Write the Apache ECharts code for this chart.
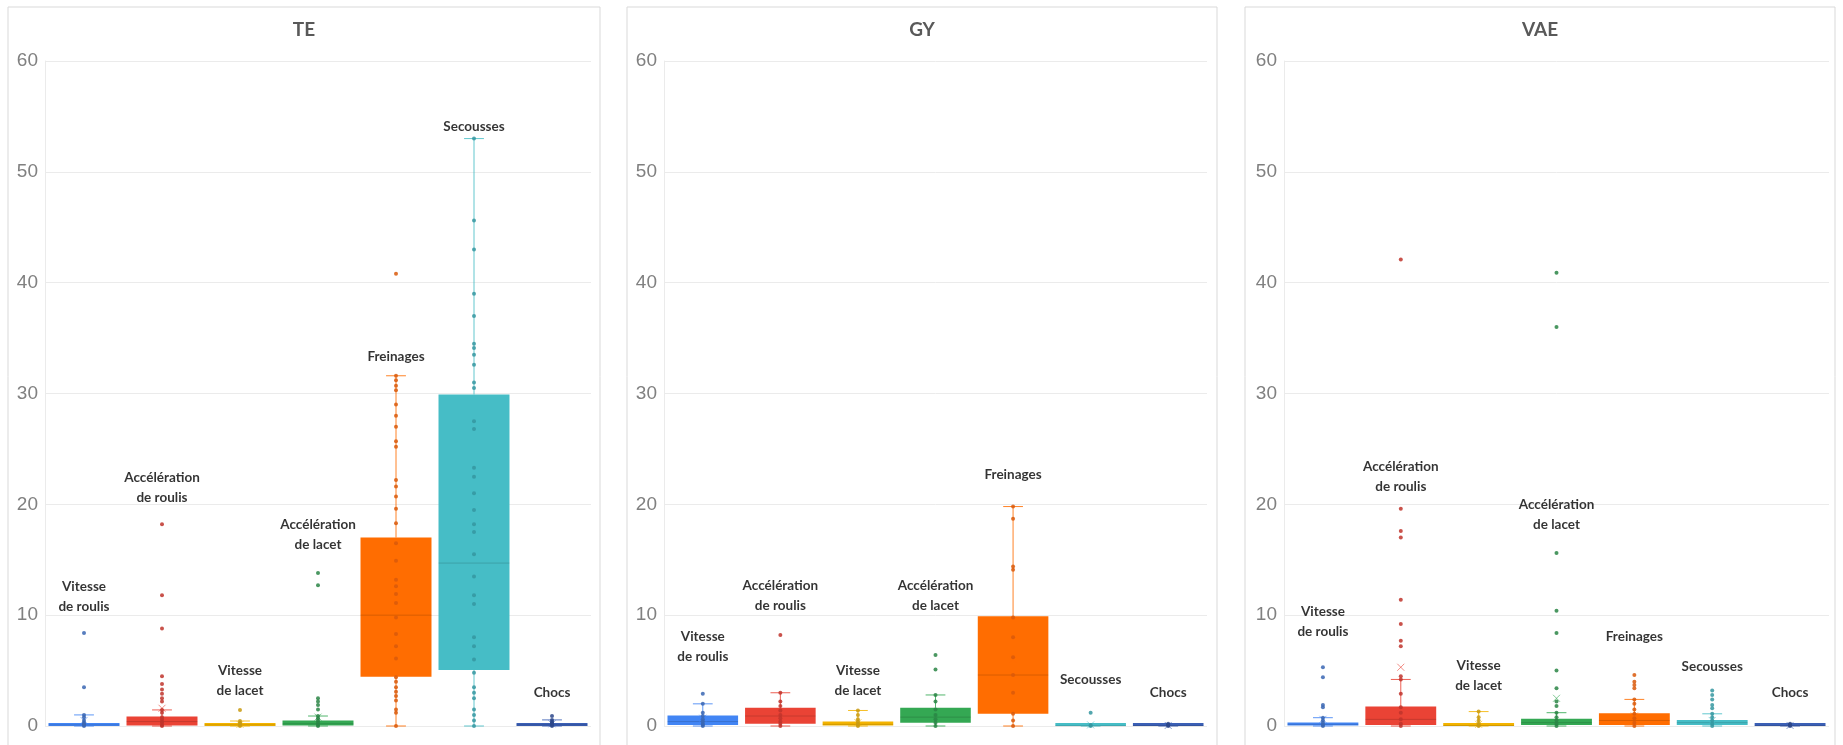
<!DOCTYPE html>
<html lang="fr">
<head>
<meta charset="UTF-8">
<title>TE / GY / VAE</title>
<script src="https://cdn.jsdelivr.net/npm/echarts@6/dist/echarts.min.js"></script>
<style>
  html, body { margin: 0; background: #fff; }
  #chart { width: 1843px; height: 745px; }
</style>
</head>
<body>
<div id="chart"></div>
<script>
// categories and their two-line labels
var categories = ['Vitesse de roulis', 'Accélération de roulis', 'Vitesse de lacet',
  'Accélération de lacet', 'Freinages', 'Secousses', 'Chocs'];
var labelText = ['Vitesse\nde roulis', 'Accélération\nde roulis', 'Vitesse\nde lacet',
  'Accélération\nde lacet', 'Freinages', 'Secousses', 'Chocs'];
var yTicks = [0, 10, 20, 30, 40, 50, 60];

var colors = ['#4285f4', '#ea4335', '#f4b400', '#34a853', '#ff6d01', '#46bdc6', '#3b5fb5'];
var pointColors = ['#3a66b3', '#c0342b', '#c99a10', '#2a8545', '#d9590b', '#3596a0', '#2c4789'];

// box stats: [whisker min, Q1, median, Q3, whisker max]
var teBox = [[0, 0, 0.1, 0.25, 1.0], [0, 0.05, 0.4, 0.85, 1.45], [0, 0, 0.1, 0.2, 0.45],
  [0, 0.05, 0.2, 0.5, 0.9], [0, 4.45, 10.0, 17.0, 31.6], [0, 5.05, 14.7, 29.9, 53.0], [0, 0, 0.1, 0.2, 0.55]];
var teMean = [0.5, 1.6, 0.15, 0.8, 11.5, 18.0, 0.2];
var tePoints = [
  [8.4, 3.5, 1.0, 0.8, 0.5, 0.3, 0.2, 0.1, 0],
  [18.2, 11.8, 8.8, 4.5, 3.8, 3.3, 2.9, 2.5, 2.2, 1.45, 1.2, 0.8, 0.6, 0.4, 0.3, 0.1, 0],
  [1.45, 0.45, 0.3, 0.2, 0.1, 0],
  [13.8, 12.7, 2.5, 2.2, 1.9, 1.5, 0.9, 0.7, 0.5, 0.3, 0.1, 0],
  [40.8, 31.6, 31.2, 30.7, 30.3, 29.0, 28.0, 27.0, 25.7, 25.2, 22.2, 21.6, 20.7, 19.6, 18.3, 16.5,
    14.9, 13.2, 12.6, 11.9, 11.1, 9.8, 8.3, 7.2, 6.1, 4.4, 4.0, 3.5, 3.1, 2.7, 2.3, 1.5, 1.2, 0],
  [53.0, 45.6, 43.0, 39.0, 37.0, 34.5, 34.1, 33.5, 32.6, 31.0, 30.5, 27.5, 26.8, 23.3, 22.5, 21.0,
    19.5, 18.2, 17.5, 15.5, 13.5, 11.8, 11.0, 8.0, 7.2, 6.0, 4.8, 3.5, 3.0, 2.5, 1.5, 1.0, 0.5, 0],
  [0.9, 0.55, 0.4, 0.3, 0.2, 0.1, 0]
];
var teLabelY = [11.7, 21.5, 4.05, 17.3, 33.3, 54.1, 3.05];

var gyBox = [[0, 0.1, 0.4, 0.95, 2.0], [0, 0.2, 0.9, 1.65, 3.0], [0, 0.05, 0.15, 0.4, 1.4],
  [0, 0.3, 0.8, 1.65, 2.8], [0, 1.1, 4.6, 9.9, 19.8], [0, 0, 0.02, 0.08, 0.15], [0, 0, 0.03, 0.08, 0.2]];
var gyMean = [0.7, 1.3, 0.3, 1.3, 6.0, 0.1, 0.05];
var gyPoints = [
  [2.9, 2.0, 1.2, 0.9, 0.6, 0.4, 0.2, 0.1, 0],
  [8.2, 3.0, 2.2, 1.8, 1.4, 1.0, 0.7, 0.4, 0.2, 0],
  [1.4, 1.0, 0.6, 0.4, 0.2, 0.1, 0],
  [6.4, 5.1, 2.8, 2.2, 1.5, 1.0, 0.6, 0.3, 0],
  [19.8, 18.7, 14.4, 14.1, 9.8, 8.0, 6.2, 4.6, 3.0, 1.1, 0.5, 0],
  [1.2, 0.1, 0],
  [0.2, 0.1, 0]
];
var gyLabelY = [7.2, 11.8, 4.05, 11.8, 22.7, 4.2, 3.05];

var vaeBox = [[0, 0.05, 0.15, 0.3, 0.75], [0, 0.1, 0.6, 1.75, 4.2], [0, 0, 0.05, 0.1, 1.3],
  [0, 0.1, 0.3, 0.65, 1.2], [0, 0.1, 0.5, 1.15, 2.4], [0, 0.1, 0.3, 0.55, 1.1], [0, 0, 0.03, 0.08, 0.2]];
var vaeMean = [0.6, 5.3, 0.15, 2.5, 0.9, 0.5, 0.05];
var vaePoints = [
  [5.3, 4.4, 1.9, 1.7, 0.75, 0.5, 0.3, 0.1, 0],
  [42.1, 19.6, 17.6, 17.0, 11.4, 9.2, 7.7, 7.2, 4.5, 4.2, 2.9, 1.7, 1.2, 0.6, 0.2, 0],
  [1.3, 0.8, 0.5, 0.2, 0.1, 0],
  [40.9, 36.0, 15.6, 10.4, 8.4, 5.0, 3.4, 2.2, 1.8, 1.2, 0.8, 0.5, 0.2, 0],
  [4.6, 4.0, 3.7, 3.4, 2.4, 2.0, 1.5, 1.1, 0.7, 0.3, 0],
  [3.2, 2.8, 2.4, 1.9, 1.6, 1.1, 0.8, 0.5, 0.2, 0],
  [0.2, 0.1, 0]
];
var vaeLabelY = [9.4, 22.5, 4.5, 19.1, 8.1, 5.4, 3.05];

var panels = [
  { title: 'TE', box: teBox, mean: teMean, points: tePoints, labelY: teLabelY },
  { title: 'GY', box: gyBox, mean: gyMean, points: gyPoints, labelY: gyLabelY },
  { title: 'VAE', box: vaeBox, mean: vaeMean, points: vaePoints, labelY: vaeLabelY }
];

// layout of the three panels
var frames = [{ x: 8, w: 592 }, { x: 627, w: 590 }, { x: 1245, w: 590 }];
var grids = [{ left: 45, width: 546 }, { left: 664, width: 543 }, { left: 1284, width: 545 }];

function boxRender(params, api) {
  var i = api.value(0);
  var band = api.size([1, 0])[0];
  var bw = band * 0.91, cw = bw * 0.28;
  var pMin = api.coord([i, api.value(1)]);
  var pQ1 = api.coord([i, api.value(2)]);
  var pMed = api.coord([i, api.value(3)]);
  var pQ3 = api.coord([i, api.value(4)]);
  var pMax = api.coord([i, api.value(5)]);
  var pMean = api.coord([i, api.value(6)]);
  var cx = pMed[0];
  var c = colors[i];
  var h = Math.max(pQ1[1] - pQ3[1], 3);
  function ln(x1, y1, x2, y2, col, op) {
    return { type: 'line', shape: { x1: x1, y1: y1, x2: x2, y2: y2 },
      style: { stroke: col || c, lineWidth: 1, opacity: op == null ? 0.85 : op } };
  }
  var m = 3.5;
  return {
    type: 'group',
    children: [
      ln(cx, pMax[1], cx, pQ3[1]),
      ln(cx, pQ1[1], cx, pMin[1]),
      ln(cx - cw / 2, pMax[1], cx + cw / 2, pMax[1]),
      ln(cx - cw / 2, pMin[1], cx + cw / 2, pMin[1]),
      { type: 'rect', shape: { x: cx - bw / 2, y: pQ1[1] - h, width: bw, height: h }, style: { fill: c } },
      ln(cx - bw / 2, pMed[1], cx + bw / 2, pMed[1], '#000', 0.15),
      ln(cx - m, pMean[1] - m, cx + m, pMean[1] + m, c, 0.6),
      ln(cx - m, pMean[1] + m, cx + m, pMean[1] - m, c, 0.6)
    ]
  };
}

var option = {
  animation: false,
  backgroundColor: '#fff',
  graphic: [],
  grid: [],
  xAxis: [],
  yAxis: [],
  series: []
};

panels.forEach(function (p, k) {
  option.graphic.push({
    type: 'rect', shape: { x: frames[k].x, y: 7, width: frames[k].w, height: 760 },
    style: { fill: 'none', stroke: '#d9d9d9', lineWidth: 1 }, z: -1
  });
  option.graphic.push({
    type: 'text', x: frames[k].x + frames[k].w / 2, y: 30,
    style: { text: p.title, align: 'center', verticalAlign: 'middle',
      fontSize: 19, fontWeight: 'bold', fontFamily: 'Lato', fill: '#595959' }
  });
  option.grid.push({ left: grids[k].left, width: grids[k].width, top: 61, height: 665 });
  option.xAxis.push({
    type: 'category', gridIndex: k, data: categories, boundaryGap: true,
    axisLine: { show: false }, axisTick: { show: false }, axisLabel: { show: false }
  });
  option.yAxis.push({
    type: 'value', gridIndex: k, min: yTicks[0], max: yTicks[yTicks.length - 1], interval: 10,
    axisLine: { show: true, lineStyle: { color: '#ebebeb' } },
    axisTick: { show: false },
    splitLine: { lineStyle: { color: '#ebebeb', width: 1 } },
    axisLabel: { color: '#808080', fontSize: 19, fontFamily: 'Liberation Sans', margin: 7 }
  });
  option.series.push({
    type: 'custom', xAxisIndex: k, yAxisIndex: k, renderItem: boxRender, z: 2,
    encode: { x: 0, y: [1, 2, 3, 4, 5] },
    data: p.box.map(function (b, i) { return [i].concat(b, [p.mean[i]]); })
  });
  var pts = [];
  p.points.forEach(function (arr, i) { arr.forEach(function (v) { pts.push([i, v]); }); });
  option.series.push({
    type: 'scatter', xAxisIndex: k, yAxisIndex: k, z: 3, symbolSize: 4,
    data: pts,
    itemStyle: { opacity: 0.85, color: function (d) { return pointColors[d.data[0]]; } }
  });
  option.series.push({
    type: 'scatter', xAxisIndex: k, yAxisIndex: k, z: 4, symbolSize: 1, silent: true,
    itemStyle: { color: 'rgba(0,0,0,0)' },
    data: p.labelY.map(function (y, i) { return [i, y]; }),
    label: {
      show: true, position: 'inside',
      formatter: function (d) { return labelText[d.data[0]]; },
      fontFamily: 'Lato', fontWeight: 'bold', fontSize: 13.5, lineHeight: 20, color: '#000'
    }
  });
});

var chart = echarts.init(document.getElementById('chart'));
chart.setOption(option);
</script>
</body>
</html>
